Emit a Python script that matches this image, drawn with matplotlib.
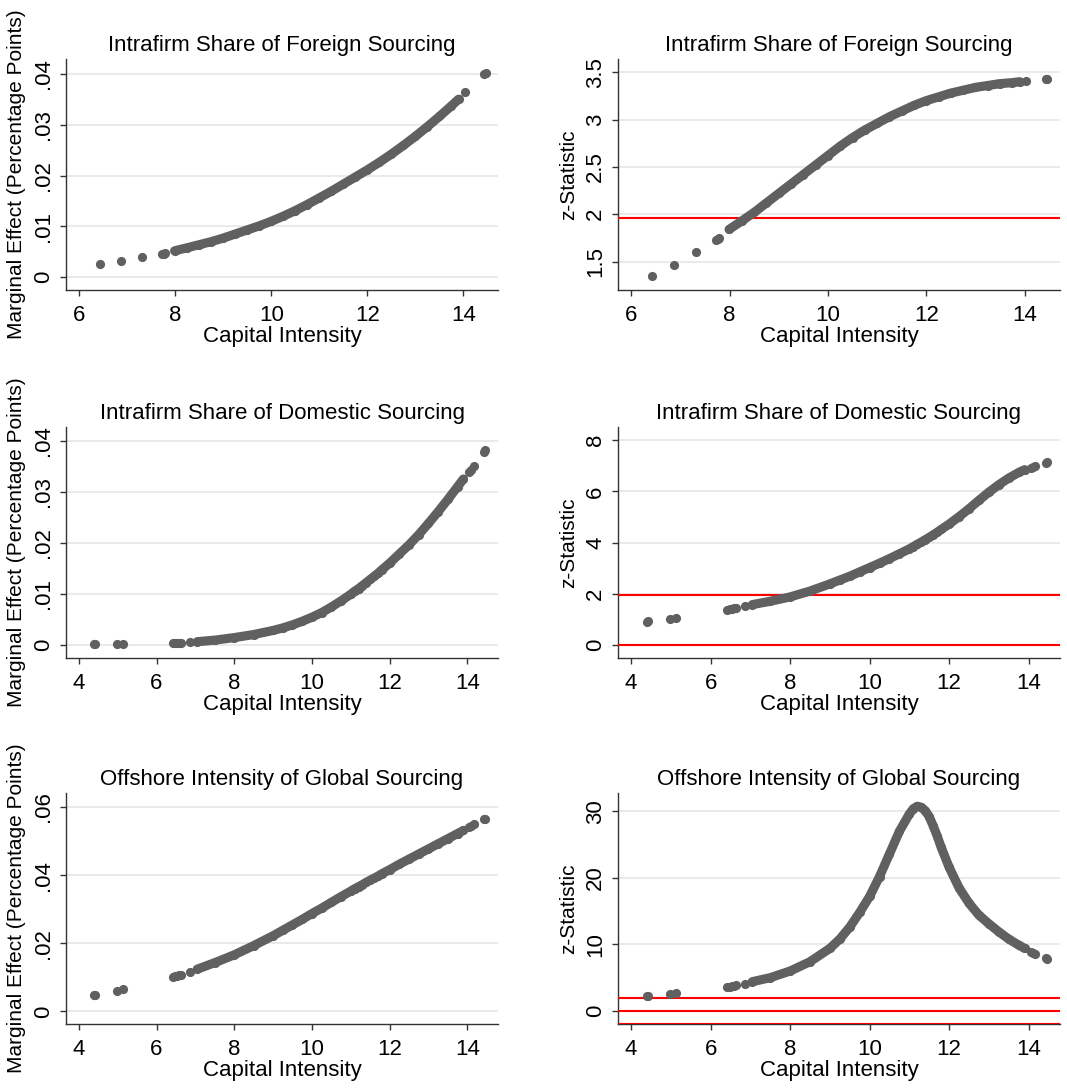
import matplotlib
matplotlib.use("Agg")
import matplotlib.pyplot as plt

plt.rcParams['font.family'] = ['Liberation Sans', 'DejaVu Sans']

# ---------------- data ----------------
titles = ["Intrafirm Share of Foreign Sourcing", "Intrafirm Share of Foreign Sourcing",
          "Intrafirm Share of Domestic Sourcing", "Intrafirm Share of Domestic Sourcing",
          "Offshore Intensity of Global Sourcing", "Offshore Intensity of Global Sourcing"]
xlabel = "Capital Intensity"
ylabel_me = "Marginal Effect (Percentage Points)"
ylabel_z = "z-Statistic"

# top row (foreign sourcing sample)
x_top_iso = [6.43, 6.87, 7.31, 7.72, 7.76, 7.79, 14.03, 14.43, 14.46]
x_top = [7.99, 8.25, 8.5, 8.75, 9.0, 9.25, 9.5, 9.75, 10.0, 10.25, 10.5, 10.75, 11.0,
         11.25, 11.5, 11.75, 12.0, 12.25, 12.5, 12.75, 13.0, 13.25, 13.5, 13.75, 13.9]
me_foreign_iso = [0.0026, 0.0032, 0.0039, 0.0046, 0.0046, 0.0047, 0.0365, 0.0400, 0.0402]
me_foreign = [0.0052, 0.0058, 0.0064, 0.0070, 0.0077, 0.0085, 0.0093, 0.0101, 0.0110, 0.0120,
              0.0131, 0.0143, 0.0156, 0.0169, 0.0183, 0.0197, 0.0211, 0.0226, 0.0242, 0.0259,
              0.0277, 0.0296, 0.0316, 0.0337, 0.0350]
z_foreign_iso = [1.35, 1.465, 1.60, 1.725, 1.74, 1.75, 3.405, 3.43, 3.43]
z_foreign = [1.84, 1.93, 2.02, 2.12, 2.22, 2.32, 2.42, 2.52, 2.62, 2.72, 2.81, 2.89, 2.96,
             3.03, 3.09, 3.15, 3.20, 3.24, 3.28, 3.31, 3.34, 3.36, 3.38, 3.39, 3.40]

# middle and bottom rows (full sample)
x_all_iso = [4.40, 4.42, 4.97, 5.14, 6.42, 6.48, 6.53, 6.58, 6.63, 6.86, 14.05, 14.10, 14.17, 14.43, 14.46]
x_all = [7.05, 7.5, 8.0, 8.5, 9.0, 9.25, 9.5, 9.75, 10.0, 10.25, 10.5, 10.75, 11.0, 11.1, 11.2,
         11.3, 11.4, 11.5, 11.6, 11.7, 11.8, 12.0, 12.25, 12.5, 12.75, 13.0, 13.25, 13.5, 13.75, 13.9]
me_domestic_iso = [0.0001, 0.0001, 0.0001, 0.0001, 0.0003, 0.0003, 0.0003, 0.0004, 0.0004, 0.0005,
                   0.0338, 0.0343, 0.0350, 0.0378, 0.0381]
me_domestic = [0.0006, 0.0009, 0.0014, 0.0020, 0.0028, 0.0033, 0.0039, 0.0046, 0.0054, 0.0063,
               0.0074, 0.0086, 0.0099, 0.0105, 0.0110, 0.0116, 0.0122, 0.0128, 0.0134, 0.0140,
               0.0147, 0.0160, 0.0178, 0.0196, 0.0216, 0.0238, 0.0261, 0.0285, 0.0310, 0.0325]
z_domestic_iso = [0.90, 0.91, 1.01, 1.05, 1.37, 1.39, 1.41, 1.43, 1.45, 1.50, 6.93, 6.97, 7.01, 7.13, 7.15]
z_domestic = [1.57, 1.70, 1.87, 2.10, 2.38, 2.53, 2.68, 2.85, 3.02, 3.19, 3.37, 3.56, 3.75, 3.84,
              3.93, 4.02, 4.11, 4.20, 4.30, 4.40, 4.51, 4.72, 5.01, 5.32, 5.65, 5.97, 6.26, 6.52,
              6.74, 6.85]
me_offshore_iso = [0.0048, 0.0049, 0.0060, 0.0065, 0.0101, 0.0103, 0.0104, 0.0106, 0.0107, 0.0115,
                   0.0541, 0.0545, 0.0549, 0.0564, 0.0566]
me_offshore = [0.0124, 0.0143, 0.0166, 0.0193, 0.0222, 0.0238, 0.0254, 0.0270, 0.0287, 0.0303,
               0.0320, 0.0337, 0.0353, 0.0360, 0.0366, 0.0372, 0.0379, 0.0385, 0.0391, 0.0397,
               0.0404, 0.0416, 0.0432, 0.0447, 0.0462, 0.0477, 0.0492, 0.0507, 0.0522, 0.0531]
z_offshore_iso = [2.20, 2.25, 2.50, 2.65, 3.60, 3.65, 3.70, 3.78, 3.85, 4.10, 8.80, 8.65, 8.50, 7.95, 7.85]
z_offshore = [4.4, 5.0, 6.0, 7.4, 9.4, 10.8, 12.6, 14.8, 17.2, 20.2, 23.6, 27.0, 29.6, 30.4,
              30.75, 30.6, 30.1, 29.2, 27.8, 26.3, 24.6, 21.6, 18.5, 16.2, 14.4, 13.1, 11.9,
              10.8, 9.9, 9.4]

# reference lines for z-statistics
z_lines = [-1.96, 0, 1.96]

# axis ticks
xticks_top = [6, 8, 10, 12, 14]
xticks_all = [4, 6, 8, 10, 12, 14]
yticks_me4 = [0, 0.01, 0.02, 0.03, 0.04]
yticklabels_me4 = ["0", ".01", ".02", ".03", ".04"]
yticks_zf = [1.5, 2, 2.5, 3, 3.5]
yticklabels_zf = ["1.5", "2", "2.5", "3", "3.5"]
yticks_zd = [0, 2, 4, 6, 8]
yticklabels_zd = ["0", "2", "4", "6", "8"]
yticks_me6 = [0, 0.02, 0.04, 0.06]
yticklabels_me6 = ["0", ".02", ".04", ".06"]
yticks_zo = [0, 10, 20, 30]
yticklabels_zo = ["0", "10", "20", "30"]

# ---------------- layout ----------------
W, H = 1067, 1088
fig = plt.figure(figsize=(W / 100, H / 100), dpi=100)
fig.patch.set_facecolor("white")

cols = [(66, 498), (618, 1060)]
rows = [(59, 290), (427, 658), (793, 1024)]

MCOL = "#606060"
MSIZE = 6.6  # points (diameter)
FS = 16
FS_YLAB = 15

panels = [
    dict(r=0, c=0, x=x_top, y=me_foreign, xi=x_top_iso, yi=me_foreign_iso, xt=xticks_top,
         yt=yticks_me4, ytl=yticklabels_me4, xl=(5.73, 14.72), yl=(-0.0025, 0.0429), ylab=ylabel_me, z=False),
    dict(r=0, c=1, x=x_top, y=z_foreign, xi=x_top_iso, yi=z_foreign_iso, xt=xticks_top,
         yt=yticks_zf, ytl=yticklabels_zf, xl=(5.73, 14.72), yl=(1.20, 3.64), ylab=ylabel_z, z=True),
    dict(r=1, c=0, x=x_all, y=me_domestic, xi=x_all_iso, yi=me_domestic_iso, xt=xticks_all,
         yt=yticks_me4, ytl=yticklabels_me4, xl=(3.67, 14.79), yl=(-0.0026, 0.0427), ylab=ylabel_me, z=False),
    dict(r=1, c=1, x=x_all, y=z_domestic, xi=x_all_iso, yi=z_domestic_iso, xt=xticks_all,
         yt=yticks_zd, ytl=yticklabels_zd, xl=(3.67, 14.79), yl=(-0.52, 8.52), ylab=ylabel_z, z=True),
    dict(r=2, c=0, x=x_all, y=me_offshore, xi=x_all_iso, yi=me_offshore_iso, xt=xticks_all,
         yt=yticks_me6, ytl=yticklabels_me6, xl=(3.67, 14.79), yl=(-0.0037, 0.0641), ylab=ylabel_me, z=False),
    dict(r=2, c=1, x=x_all, y=z_offshore, xi=x_all_iso, yi=z_offshore_iso, xt=xticks_all,
         yt=yticks_zo, ytl=yticklabels_zo, xl=(3.67, 14.79), yl=(-1.96, 32.75), ylab=ylabel_z, z=True),
]

for i, p in enumerate(panels):
    x0, x1 = cols[p["c"]]
    top, bot = rows[p["r"]]
    ax = fig.add_axes([x0 / W, 1 - bot / H, (x1 - x0) / W, (bot - top) / H])
    ax.set_xlim(*p["xl"])
    ax.set_ylim(*p["yl"])
    ax.set_xticks(p["xt"])
    ax.set_xticklabels([str(v) for v in p["xt"]])
    ax.set_yticks(p["yt"])
    ax.set_yticklabels(p["ytl"], rotation=90, va="center")
    ax.grid(axis="y", color="#e6e6e6", lw=1.2, zorder=0)
    ax.set_axisbelow(True)
    for s in ["top", "right"]:
        ax.spines[s].set_visible(False)
    for s in ["left", "bottom"]:
        ax.spines[s].set_color("#333333")
        ax.spines[s].set_linewidth(1.0)
    ax.tick_params(axis="both", direction="out", length=4.5, width=1.0, color="#333333",
                   labelsize=FS, pad=4)
    ax.tick_params(axis="x", pad=6)
    if p["z"]:
        for zl in z_lines:
            ax.axhline(zl, color="red", lw=1.5, zorder=2.6)
    # dense part: connected band of markers
    ax.plot(p["x"], p["y"], "-", color=MCOL, lw=MSIZE, solid_capstyle="round",
            solid_joinstyle="round", zorder=3)
    ax.plot(p["x"], p["y"], "o", color=MCOL, ms=MSIZE, mew=0, zorder=3)
    ax.plot(p["xi"], p["yi"], "o", color=MCOL, ms=MSIZE, mew=0, zorder=3)
    ax.set_title(titles[i], fontsize=FS, pad=6)
    ax.set_xlabel(xlabel, fontsize=FS, labelpad=0)
    ax.set_ylabel(p["ylab"], fontsize=FS_YLAB, labelpad=5)

fig.savefig("out.png", dpi=100, facecolor="white")
